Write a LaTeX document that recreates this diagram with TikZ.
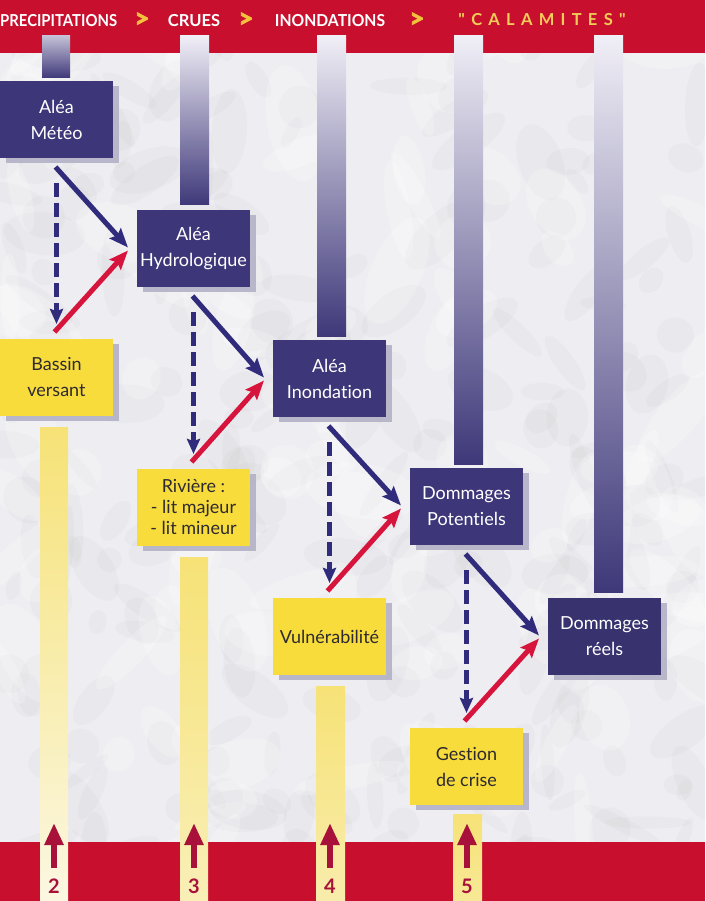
\documentclass[tikz,border=0pt]{standalone}
\usepackage{fontspec}
\setmainfont{Lato}[Ligatures=NoCommon]
\newfontfamily\calfont{Lato}[LetterSpace=38]
\usetikzlibrary{arrows.meta,shadows}
\definecolor{bandred}{HTML}{C8102E}
\definecolor{boxblue}{HTML}{3D3779}
\definecolor{arrowblue}{HTML}{302B7A}
\definecolor{arrowred}{HTML}{D7143C}
\definecolor{boxyellow}{HTML}{F7DC3C}
\definecolor{yellowtext}{HTML}{2E2A30}
\definecolor{hdryellow}{HTML}{F3C23C}
\definecolor{calyellow}{HTML}{F2CC58}
\definecolor{numred}{HTML}{A8123A}
\definecolor{marble}{HTML}{EEEEF2}
\definecolor{shadowgray}{HTML}{B3B1C6}
\definecolor{bartop}{HTML}{F0EEF6}
\definecolor{barbot}{HTML}{3E3879}
\definecolor{ytop}{HTML}{F6E276}
\definecolor{ybot}{HTML}{FBF7E2}
\begin{document}
\begin{tikzpicture}[x=1pt,y=-1pt,
  bluebox/.style={fill=boxblue, text=white, minimum width=113pt, minimum height=77pt,
    inner sep=0pt, outer sep=0pt, anchor=north west, align=center,
    font=\fontsize{18}{26}\selectfont,
    drop shadow={shadow xshift=6pt, shadow yshift=-5pt, fill=shadowgray, opacity=0.9}},
  yellowbox/.style={bluebox, fill=boxyellow, text=yellowtext},
  hdr/.style={text=white, font=\bfseries\fontsize{16.5}{16.5}\selectfont, inner sep=0pt},
  chev/.style={text=hdryellow, font=\bfseries\fontsize{26}{26}\selectfont\addfontfeature{FakeBold=3}, inner sep=0pt},
  solidarr/.style={draw=arrowblue, line width=5pt, -{Stealth[length=19pt,width=15pt,inset=3pt]}},
  redarr/.style={draw=arrowred, line width=5pt, -{Stealth[length=19pt,width=15pt,inset=3pt]}},
  dasharr/.style={draw=arrowblue, line width=5pt, dash pattern=on 14pt off 6pt,
    -{Stealth[length=15pt,width=13pt,inset=2pt]}},
  uparr/.style={draw=numred, line width=6pt, -{Triangle[length=22pt,width=18pt]}},
  numtxt/.style={text=numred, font=\bfseries\fontsize{20}{20}\selectfont, inner sep=0pt}
]
\useasboundingbox (0,0) rectangle (705,901);
% marble background
\begin{scope}
\clip (0,0) rectangle (705,901);
\fill[marble] (0,0) rectangle (705,901);
\pgfmathsetseed{12}
\foreach \i in {1,...,260}{
  \pgfmathsetmacro\px{705*rnd}
  \pgfmathsetmacro\py{901*rnd}
  \pgfmathsetmacro\ra{10+35*rnd}
  \pgfmathsetmacro\rb{6+16*rnd}
  \pgfmathsetmacro\ang{360*rnd}
  \fill[gray!80, opacity=0.05, rotate around={\ang:(\px,\py)}] (\px,\py) ellipse ({\ra pt} and {\rb pt});
}
\foreach \i in {1,...,120}{
  \pgfmathsetmacro\px{705*rnd}
  \pgfmathsetmacro\py{901*rnd}
  \pgfmathsetmacro\ra{15+45*rnd}
  \pgfmathsetmacro\rb{8+20*rnd}
  \pgfmathsetmacro\ang{360*rnd}
  \fill[white, opacity=0.22, rotate around={\ang:(\px,\py)}] (\px,\py) ellipse ({\ra pt} and {\rb pt});
}
\end{scope}
% red bands
\fill[bandred] (0,0) rectangle (705,53);
\fill[bandred] (0,842) rectangle (705,901);
% blue gradient bars
\shade[top color=bartop!75!barbot, bottom color=barbot] (42,36) rectangle (70,78);
\shade[top color=bartop, bottom color=barbot] (180,36) rectangle (209,205);
\shade[top color=bartop, bottom color=barbot] (317,36) rectangle (346,336);
\shade[top color=bartop, bottom color=barbot] (454,36) rectangle (483,464);
\shade[top color=bartop, bottom color=barbot] (594,36) rectangle (623,592);
% yellow bars
\shade[top color=ytop, middle color=ytop!60!ybot, bottom color=ybot] (40,427) rectangle (68,901);
\shade[top color=ytop, middle color=ytop!75!ybot, bottom color=ybot!60!ytop] (180,557) rectangle (208,901);
\shade[top color=ytop, bottom color=ybot!50!ytop] (316,686) rectangle (345,901);
\shade[top color=ytop, bottom color=ybot!30!ytop] (453,814) rectangle (482,901);
% header
\node[hdr, anchor=west] (h1) at (0,21) {\scalebox{0.9}[1]{PRECIPITATIONS}};
\node[chev] (c1) at (142,20) {>};
\node[hdr] (h2) at (194,21) {CRUES};
\node[chev] (c2) at (246,20) {>};
\node[hdr] (h3) at (330,21) {\scalebox{0.95}[1]{INONDATIONS}};
\node[chev] (c3) at (417,20) {>};
\node[hdr, text=calyellow, font=\calfont\bfseries\fontsize{16.5}{16.5}\selectfont] (h4) at (542,20) {"CALAMITES"};
% boxes
\node[bluebox] (m1) at (0,81) {Aléa\\Météo};
\node[bluebox] (m2) at (137,210) {Aléa\\Hydrologique};
\node[bluebox] (m3) at (273,340) {Aléa\\Inondation};
\node[bluebox] (m4) at (410,468) {Dommages\\Potentiels};
\node[bluebox, fill=boxblue!92!black] (m5) at (548,598) {Dommages\\réels};
\node[yellowbox] (y1) at (0,339) {Bassin\\versant};
\node[yellowbox, font=\fontsize{18}{21}\selectfont] (y2) at (137,469) {Rivière :\\- lit majeur\\- lit mineur};
\node[yellowbox] (y3) at (273,598) {Vulnérabilité};
\node[yellowbox] (y4) at (410,728) {Gestion\\de crise};
% arrows
\foreach \a/\b/\y in {m1/m2/y1, m2/m3/y2, m3/m4/y3, m4/m5/y4}{
  \draw[dasharr] ([yshift=-25pt]\a.south) -- ([yshift=15pt]\y.north);
  \draw[solidarr] ([xshift=-1pt,yshift=-9pt]\a.south) -- ([xshift=-9pt,yshift=1pt]\b.west);
  \draw[redarr] ([xshift=-2pt,yshift=7pt]\y.north) -- ([xshift=-9pt,yshift=-2pt]\b.west);
}
% bottom arrows and numbers
\foreach \n/\x in {2/54, 3/194, 4/330, 5/467}{
  \coordinate (s\n) at (\x,868);
  \coordinate (t\n) at (\x,823);
  \draw[uparr] (s\n) -- (t\n);
  \node[numtxt] (n\n) at (\x,886) {\n};
}
\end{tikzpicture}
\end{document}
